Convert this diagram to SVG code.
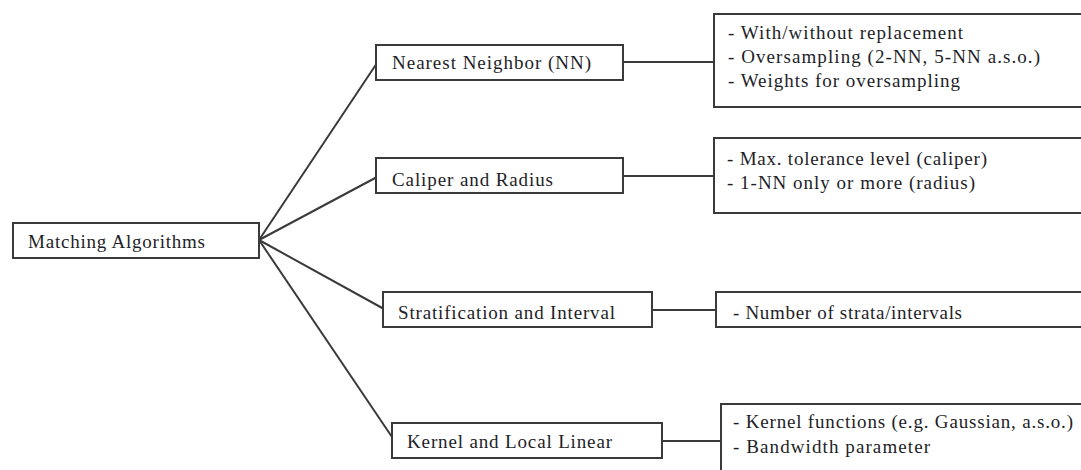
<svg xmlns="http://www.w3.org/2000/svg" width="1081" height="470" viewBox="0 0 1081 470">
<style>
.box{fill:#fff;stroke:#3a3a3a;stroke-width:2}
.t{font-family:"Liberation Serif","Times New Roman",serif;font-size:19px;fill:#1e1e28}
.c{stroke:#3a3a3a;stroke-width:2;fill:none}
</style>
<rect width="1081" height="470" fill="#fff"/>
<g id="connectors">
<line class="c" x1="259" y1="240" x2="377" y2="63"/>
<line class="c" x1="259" y1="240" x2="377" y2="177"/>
<line class="c" x1="259" y1="240" x2="384" y2="309"/>
<line class="c" x1="259" y1="240" x2="392" y2="437"/>
<line class="c" x1="623" y1="62" x2="714" y2="62"/>
<line class="c" x1="623" y1="176" x2="714" y2="176"/>
<line class="c" x1="652" y1="310" x2="716" y2="310"/>
<line class="c" x1="662" y1="441" x2="721" y2="441"/>
</g>
<g id="root">
<rect class="box" x="13" y="223" width="246" height="35"/>
<text class="t" x="28" y="248" textLength="177" lengthAdjust="spacing">Matching Algorithms</text>
</g>
<g id="nn">
<rect class="box" x="376" y="45" width="247" height="35"/>
<text class="t" x="392" y="69" textLength="199" lengthAdjust="spacing">Nearest Neighbor (NN)</text>
</g>
<g id="caliper">
<rect class="box" x="376" y="158" width="247" height="35"/>
<text class="t" x="392" y="186" textLength="161" lengthAdjust="spacing">Caliper and Radius</text>
</g>
<g id="strat">
<rect class="box" x="383" y="292" width="269" height="35"/>
<text class="t" x="398" y="319" textLength="217" lengthAdjust="spacing">Stratification and Interval</text>
</g>
<g id="kernel">
<rect class="box" x="392" y="423" width="270" height="35"/>
<text class="t" x="407" y="448" textLength="205" lengthAdjust="spacing">Kernel and Local Linear</text>
</g>
<g id="nn-opts">
<rect class="box" x="714" y="14" width="380" height="93"/>
<text class="t" x="728" y="39" textLength="235" lengthAdjust="spacing">- With/without replacement</text>
<text class="t" x="728" y="63" textLength="312" lengthAdjust="spacing">- Oversampling (2-NN, 5-NN a.s.o.)</text>
<text class="t" x="728" y="87" textLength="232" lengthAdjust="spacing">- Weights for oversampling</text>
</g>
<g id="caliper-opts">
<rect class="box" x="714" y="138" width="380" height="75"/>
<text class="t" x="727" y="165" textLength="260" lengthAdjust="spacing">- Max. tolerance level (caliper)</text>
<text class="t" x="727" y="189" textLength="248" lengthAdjust="spacing">- 1-NN only or more (radius)</text>
</g>
<g id="strat-opts">
<rect class="box" x="716" y="292" width="380" height="35"/>
<text class="t" x="733" y="319" textLength="229" lengthAdjust="spacing">- Number of strata/intervals</text>
</g>
<g id="kernel-opts">
<rect class="box" x="721" y="404" width="380" height="80"/>
<text class="t" x="733" y="428" textLength="340" lengthAdjust="spacing">- Kernel functions (e.g. Gaussian, a.s.o.)</text>
<text class="t" x="733" y="453" textLength="197" lengthAdjust="spacing">- Bandwidth parameter</text>
</g>
</svg>
